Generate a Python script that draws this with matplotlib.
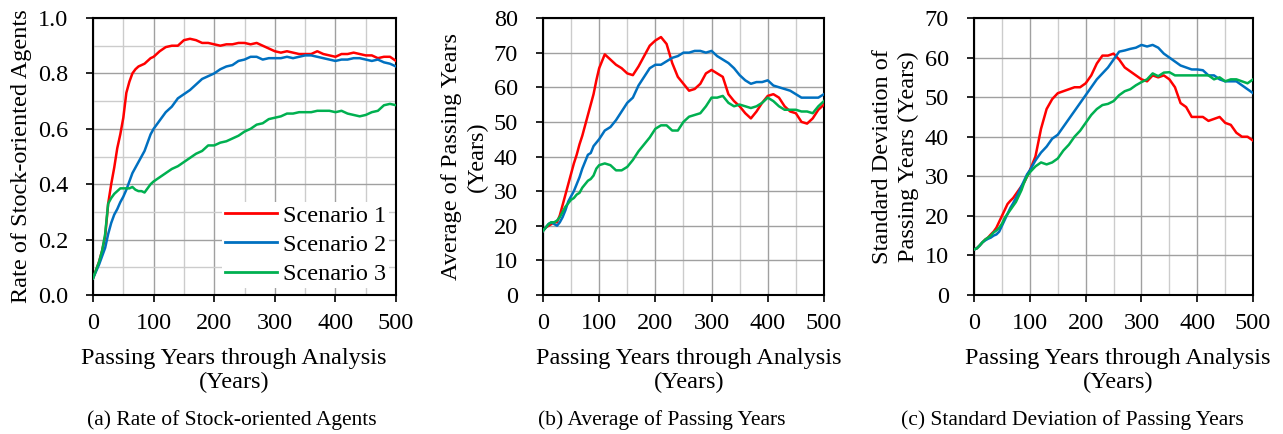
#!/usr/bin/env python3
# -*- coding: utf-8 -*-

import matplotlib
matplotlib.use("Agg")
import matplotlib.pyplot as plt
from matplotlib.ticker import MultipleLocator

plt.rcParams['font.family'] = ['Liberation Serif', 'DejaVu Serif']

years = list(range(0, 100, 5)) + list(range(100, 501, 10))

# (a) rate of stock-oriented agents
rate_s1 = [0.06, 0.09, 0.12, 0.16, 0.21, 0.33, 0.40, 0.46, 0.53, 0.58,
           0.64, 0.73, 0.77, 0.80, 0.815, 0.825, 0.83, 0.835, 0.845, 0.855,
           0.86, 0.88, 0.895, 0.90, 0.90, 0.92, 0.925, 0.92, 0.91, 0.91,
           0.905, 0.90, 0.905, 0.905, 0.91, 0.91, 0.905, 0.91, 0.90, 0.89,
           0.88, 0.875, 0.88, 0.875, 0.87, 0.87, 0.87, 0.88, 0.87, 0.865,
           0.86, 0.87, 0.87, 0.875, 0.87, 0.865, 0.865, 0.855, 0.86, 0.86,
           0.845]
rate_s2 = [0.06, 0.085, 0.11, 0.14, 0.17, 0.22, 0.26, 0.29, 0.31, 0.335,
           0.355, 0.38, 0.41, 0.44, 0.46, 0.48, 0.50, 0.52, 0.55, 0.58,
           0.60, 0.63, 0.66, 0.68, 0.71, 0.725, 0.74, 0.76, 0.78, 0.79,
           0.80, 0.815, 0.825, 0.83, 0.845, 0.85, 0.86, 0.86, 0.85, 0.855,
           0.855, 0.855, 0.86, 0.855, 0.86, 0.865, 0.865, 0.86, 0.855, 0.85,
           0.845, 0.85, 0.85, 0.855, 0.855, 0.85, 0.845, 0.85, 0.84, 0.835,
           0.825]
rate_s3 = [0.06, 0.09, 0.12, 0.16, 0.22, 0.33, 0.35, 0.365, 0.375, 0.385,
           0.385, 0.385, 0.385, 0.39, 0.38, 0.375, 0.375, 0.37, 0.385, 0.40,
           0.41, 0.425, 0.44, 0.455, 0.465, 0.48, 0.495, 0.51, 0.52, 0.54,
           0.54, 0.55, 0.555, 0.565, 0.575, 0.59, 0.60, 0.615, 0.62, 0.635,
           0.64, 0.645, 0.655, 0.655, 0.66, 0.66, 0.66, 0.665, 0.665, 0.665,
           0.66, 0.665, 0.655, 0.65, 0.645, 0.65, 0.66, 0.665, 0.685, 0.69,
           0.685]

# (b) average of passing years
avg_s1 = [18.5, 19.5, 20.0, 20.5, 21.0, 21.0, 23.0, 26.0, 29.0, 32.0,
          35.0, 38.0, 40.5, 43.5, 46.0, 49.0, 52.0, 55.0, 58.0, 62.0,
          65.5, 69.5, 68.0, 66.5, 65.5, 64.0, 63.5, 66.0, 69.0, 72.0,
          73.5, 74.5, 72.5, 67.0, 63.0, 61.0, 59.0, 59.5, 61.0, 64.0,
          65.0, 64.0, 63.0, 58.0, 56.0, 54.5, 52.5, 51.0, 53.0, 55.5,
          57.5, 58.0, 57.0, 54.5, 53.0, 52.5, 50.0, 49.5, 51.0, 53.5,
          55.0]
avg_s2 = [18.5, 19.5, 20.5, 21.0, 20.5, 20.0, 21.0, 22.5, 24.5, 27.0,
          28.5, 30.0, 32.0, 34.0, 36.5, 38.5, 40.5, 41.0, 43.0, 44.0,
          45.0, 47.5, 48.5, 50.5, 53.0, 55.5, 57.0, 60.5, 63.0, 65.5,
          66.5, 66.5, 67.5, 68.5, 69.0, 70.0, 70.0, 70.5, 70.5, 70.0,
          70.5, 69.0, 68.0, 67.0, 65.5, 63.5, 62.0, 61.0, 61.5, 61.5,
          62.0, 60.5, 60.0, 59.5, 59.0, 58.0, 57.0, 57.0, 57.0, 57.0,
          58.0]
avg_s3 = [18.5, 19.5, 20.5, 21.0, 21.0, 21.5, 22.5, 24.0, 25.5, 26.5,
          27.5, 28.0, 29.0, 29.5, 31.0, 32.0, 33.0, 33.5, 34.5, 36.5,
          37.5, 38.0, 37.5, 36.0, 36.0, 37.0, 39.0, 41.5, 43.5, 45.5,
          48.0, 49.0, 49.0, 47.5, 47.5, 50.0, 51.5, 52.0, 52.5, 54.5,
          57.0, 57.0, 57.5, 55.5, 54.5, 55.0, 54.5, 54.0, 54.5, 55.5,
          57.0, 56.0, 54.5, 53.5, 53.5, 53.5, 53.0, 53.0, 52.5, 54.5,
          56.0]

# (c) standard deviation of passing years
std_s1 = [11.5, 11.8, 12.5, 13.3, 14.0, 14.5, 15.3, 16.0, 17.0, 18.5,
          20.0, 21.5, 23.0, 23.8, 24.5, 25.5, 26.5, 27.5, 28.5, 30.0,
          31.5, 35.0, 42.0, 47.0, 49.5, 51.0, 51.5, 52.0, 52.5, 52.5,
          53.5, 55.5, 58.5, 60.5, 60.5, 61.0, 59.5, 57.5, 56.5, 55.5,
          54.5, 54.0, 55.5, 55.0, 55.5, 54.5, 52.5, 48.5, 47.5, 45.0,
          45.0, 45.0, 44.0, 44.5, 45.0, 43.5, 43.0, 41.0, 40.0, 40.0,
          39.0]
std_s2 = [11.5, 11.8, 12.5, 13.3, 13.8, 14.2, 14.5, 15.0, 15.3, 16.0,
          17.5, 19.0, 20.5, 22.0, 23.2, 24.5, 26.0, 27.5, 29.0, 30.5,
          31.5, 34.0, 36.0, 37.5, 39.5, 40.5, 42.5, 44.5, 46.5, 48.5,
          50.5, 52.5, 54.5, 56.0, 57.5, 59.5, 61.5, 61.8, 62.2, 62.5,
          63.2, 62.8, 63.2, 62.5, 61.0, 60.0, 59.0, 58.0, 57.5, 57.0,
          57.0, 56.8, 55.5, 55.5, 54.5, 54.0, 54.0, 54.0, 53.0, 52.0,
          51.0]
std_s3 = [11.5, 11.8, 12.5, 13.3, 14.0, 14.5, 15.0, 15.8, 16.3, 17.0,
          18.0, 19.5, 20.5, 21.5, 22.5, 23.5, 25.0, 26.5, 28.5, 30.0,
          31.0, 32.5, 33.5, 33.0, 33.5, 34.5, 36.5, 38.0, 40.0, 41.5,
          43.5, 45.5, 47.0, 48.0, 48.3, 49.0, 50.5, 51.5, 52.0, 53.0,
          53.8, 54.5, 56.0, 55.3, 56.2, 56.3, 55.5, 55.5, 55.5, 55.5,
          55.5, 55.5, 55.5, 54.5, 55.0, 54.0, 54.5, 54.5, 54.0, 53.5,
          54.5]

labels = ["Scenario 1", "Scenario 2", "Scenario 3"]
colors = ["#FF0000", "#0070C0", "#00B050"]
x_label = "Passing Years through Analysis\n(Years)"
FS = 17.5


def panel(ax, series, ylim, ystep, yminor, ylabel, xlab_x, fmt):
    """ draw one of the three small line charts """
    for s, lab, col in zip(series, labels, colors):
        ax.plot(years, s, color=col, lw=1.8, label=lab, zorder=3)

    ax.set_xlim(0, 500)
    ax.set_ylim(*ylim)
    ax.xaxis.set_major_locator(MultipleLocator(100))
    ax.xaxis.set_minor_locator(MultipleLocator(50))
    ax.yaxis.set_major_locator(MultipleLocator(ystep))
    if yminor:
        ax.yaxis.set_minor_locator(MultipleLocator(yminor))
    ax.yaxis.set_major_formatter(fmt)

    ax.grid(which="major", color="#a0a0a0", lw=1.0, zorder=0)
    ax.grid(which="minor", color="#cccccc", lw=1.0, zorder=0)
    ax.set_axisbelow(True)

    ax.tick_params(which="major", direction="out", length=5, width=1.2,
                   labelsize=FS)
    ax.tick_params(axis="x", pad=8)
    ax.tick_params(axis="y", pad=13)
    ax.tick_params(which="minor", length=0)
    for sp in ax.spines.values():
        sp.set_linewidth(1.5)
        sp.set_color("black")

    ax.set_xlabel(x_label, fontsize=FS, linespacing=1.2)
    ax.xaxis.set_label_coords(xlab_x, -0.19)
    ax.set_ylabel(ylabel, fontsize=FS, labelpad=4, linespacing=1.3)


fig = plt.figure(figsize=(12.83, 4.34), dpi=100)
ax1 = fig.add_axes([0.0725, 0.3203, 0.2362, 0.6382])
ax2 = fig.add_axes([0.4232, 0.3203, 0.2190, 0.6382])
ax3 = fig.add_axes([0.7592, 0.3203, 0.2175, 0.6382])

panel(ax1, [rate_s1, rate_s2, rate_s3], (0, 1.0), 0.2, 0.1,
      "Rate of Stock-oriented Agents", 0.465, "{x:.1f}")
panel(ax2, [avg_s1, avg_s2, avg_s3], (0, 80), 10, None,
      "Average of Passing Years\n(Years)", 0.52, "{x:.0f}")
panel(ax3, [std_s1, std_s2, std_s3], (0, 70), 10, None,
      "Standard Deviation of\nPassing Years (Years)", 0.516, "{x:.0f}")

captions = ["(a) Rate of Stock-oriented Agents",
            "(b) Average of Passing Years",
            "(c) Standard Deviation of Passing Years"]
for cx, cap in zip([0.1808, 0.516, 0.8355], captions):
    fig.text(cx, 0.033, cap, ha="center", va="center", fontsize=15.5)

leg = ax1.legend(loc="lower right", fontsize=FS, frameon=True,
                 handlelength=2.15, handletextpad=0.25, labelspacing=0.3,
                 borderaxespad=0.3, borderpad=0.1)
leg.get_frame().set_edgecolor("none")
leg.get_frame().set_facecolor("white")
leg.get_frame().set_alpha(1.0)
leg.get_frame().set_boxstyle("square", pad=0)
for line in leg.get_lines():
    line.set_linewidth(2.0)

fig.savefig("out.png", dpi=100)
